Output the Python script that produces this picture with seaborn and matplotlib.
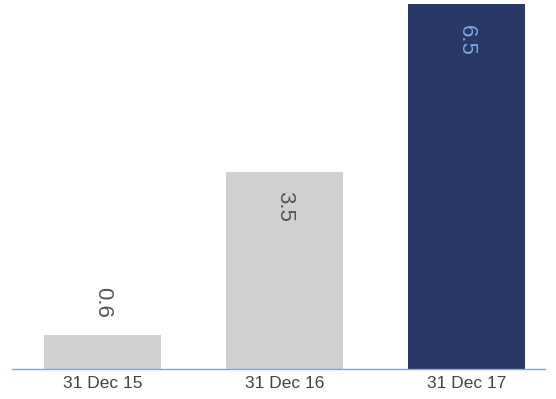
import matplotlib
matplotlib.use("Agg")
import matplotlib.pyplot as plt
import seaborn as sns
import pandas as pd

categories = ["31 Dec 15", "31 Dec 16", "31 Dec 17"]
values = [0.6, 3.5, 6.5]
bar_colors = ["#d0d0d2", "#d0d0d2", "#2a3868"]
label_colors = ["#555555", "#555555", "#7aa7dc"]

sns.set_theme(style="white")
plt.rcParams["font.family"] = ["Liberation Sans", "DejaVu Sans"]

df = pd.DataFrame({"date": categories, "value": values})

fig = plt.figure(figsize=(5.56, 3.99), dpi=100)
ax = fig.add_axes([12 / 556, 1 - 369 / 399, (545 - 12) / 556, 369 / 399])

sns.barplot(data=df, x="date", y="value", hue="date", palette=bar_colors,
            legend=False, width=0.643, ax=ax, saturation=1, linewidth=0)

ax.set_xlim(-0.497, 2.431)
ax.set_ylim(0, 6.57)

offsets = [12.5, -13.5, -15.5]
for i, (v, c, o) in enumerate(zip(values, label_colors, offsets)):
    ax.annotate(f"{v}", (i, v), xytext=(0, o), textcoords="offset points",
                rotation=-90, ha="center", va="bottom" if o > 0 else "top",
                fontsize=16, color=c)

for s in ["top", "right", "left"]:
    ax.spines[s].set_visible(False)
ax.spines["bottom"].set_color("#7fa6d6")
ax.spines["bottom"].set_linewidth(1)
ax.set_yticks([])
ax.set_xlabel("")
ax.set_ylabel("")
ax.tick_params(axis="x", length=0, pad=5, labelsize=12.5, labelcolor="#444444")

fig.savefig("out.png", dpi=100)
